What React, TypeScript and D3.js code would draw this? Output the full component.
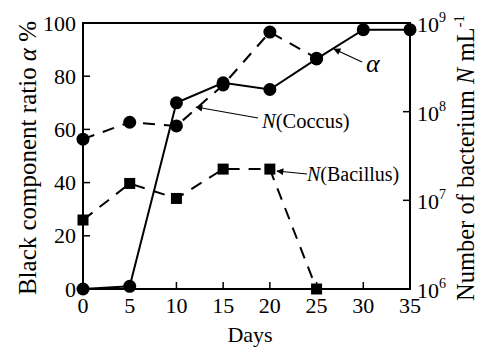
import * as d3 from "d3"

// values
const days = [0, 5, 10, 15, 20, 25, 30, 35]
const alphaRatio = [0, 1, 70, 77.5, 75, 86.5, 97.5, 97.5]
const coccusDays = [0, 5, 10, 15, 20, 25]
const coccusN = [4.9e7, 7.6e7, 6.9e7, 2.0e8, 7.9e8, 4.0e8]
const bacillusDays = [0, 5, 10, 15, 20, 25]
const bacillusN = [6.0e6, 1.55e7, 1.05e7, 2.25e7, 2.25e7, 1.0e6]
const xTicks = [0, 5, 10, 15, 20, 25, 30, 35]
const leftTicks = [0, 20, 40, 60, 80, 100]
const rightTicks = [1e6, 1e7, 1e8, 1e9]

const W = 480
const H = 347
const m = { left: 83, right: 410, top: 23, bottom: 289 }
const font = "'Liberation Serif', 'Times New Roman', serif"

export default function App() {
  const x = d3.scaleLinear().domain([0, 35]).range([m.left, m.right])
  const yL = d3.scaleLinear().domain([0, 100]).range([m.bottom, m.top])
  const yR = d3.scaleLog().domain([1e6, 1e9]).range([m.bottom, m.top])

  const alphaLine = d3.line<number>().x((_, i) => x(days[i])).y((d) => yL(d))
  const coccusLine = d3.line<number>().x((_, i) => x(coccusDays[i])).y((d) => yR(d))
  const bacillusLine = d3.line<number>().x((_, i) => x(bacillusDays[i])).y((d) => yR(d))

  const tick = 7
  const dash = "12,9"
  const midY = (m.top + m.bottom) / 2 + 2

  return (
    <svg
      width={W}
      height={H}
      style={{ position: "absolute", left: 0, top: 0, background: "white", fontFamily: font }}
    >
      <defs>
        <marker id="arr" viewBox="0 0 10 10" refX="9" refY="5" markerWidth="10" markerHeight="7" orient="auto-start-reverse" markerUnits="userSpaceOnUse">
          <path d="M0,0 L10,5 L0,10 z" fill="black" />
        </marker>
      </defs>

      {/* frame */}
      <rect x={m.left} y={m.top} width={m.right - m.left} height={m.bottom - m.top} fill="none" stroke="black" strokeWidth={2} />

      {/* bottom ticks */}
      {xTicks.map((t) => (
        <g key={"x" + t}>
          <line x1={x(t)} x2={x(t)} y1={m.bottom} y2={m.bottom - tick} stroke="black" strokeWidth={1.5} />
          <text x={x(t)} y={m.bottom + 24} textAnchor="middle" fontSize={22}>{t}</text>
        </g>
      ))}

      {/* left ticks */}
      {leftTicks.map((t) => (
        <g key={"l" + t}>
          <line x1={m.left} x2={m.left + tick} y1={yL(t)} y2={yL(t)} stroke="black" strokeWidth={1.5} />
          <text x={m.left - 7} y={yL(t) + 7.5} textAnchor="end" fontSize={22}>{t}</text>
        </g>
      ))}

      {/* right ticks */}
      {rightTicks.map((t) => {
        const e = Math.round(Math.log10(t))
        return (
          <g key={"r" + t}>
            <line x1={m.right} x2={m.right - tick} y1={yR(t)} y2={yR(t)} stroke="black" strokeWidth={1.5} />
            <text x={m.right + 7} y={yR(t) + 9} fontSize={22}>
              10<tspan dy={-10} fontSize={14}>{e}</tspan>
            </text>
          </g>
        )
      })}

      {/* axis titles */}
      <text x={250} y={342} textAnchor="middle" fontSize={22}>Days</text>
      <text transform={`translate(36,${midY}) rotate(-90)`} textAnchor="middle" fontSize={25}>
        Black component ratio <tspan fontStyle="italic">α</tspan> %
      </text>
      <text transform={`translate(474,${midY}) rotate(-90)`} textAnchor="middle" fontSize={24.5}>
        Number of bacterium <tspan fontStyle="italic">N</tspan> mL<tspan dy={-10} fontSize={15}>-1</tspan>
      </text>

      {/* series */}
      <path d={bacillusLine(bacillusN) ?? ""} fill="none" stroke="black" strokeWidth={2} strokeDasharray={dash} />
      <path d={coccusLine(coccusN) ?? ""} fill="none" stroke="black" strokeWidth={2} strokeDasharray={dash} />
      <path d={alphaLine(alphaRatio) ?? ""} fill="none" stroke="black" strokeWidth={2} />

      {bacillusN.map((v, i) => (
        <rect key={"b" + i} x={x(bacillusDays[i]) - 5.5} y={yR(v) - 5.5} width={11} height={11} fill="black" />
      ))}
      {coccusN.map((v, i) => (
        <circle key={"c" + i} cx={x(coccusDays[i])} cy={yR(v)} r={6.5} fill="black" />
      ))}
      {alphaRatio.map((v, i) => (
        <circle key={"a" + i} cx={x(days[i])} cy={yL(v)} r={6.5} fill="black" />
      ))}

      {/* annotations */}
      <line x1={362} y1={62} x2={334} y2={49} stroke="black" strokeWidth={1.2} markerEnd="url(#arr)" />
      <text x={366} y={72} fontSize={26} fontStyle="italic">α</text>

      <line x1={258} y1={118} x2={196} y2={107} stroke="black" strokeWidth={1.2} markerEnd="url(#arr)" />
      <text x={262} y={128} fontSize={20.5}>
        <tspan fontStyle="italic">N</tspan>(Coccus)
      </text>

      <line x1={307} y1={174} x2={277} y2={171} stroke="black" strokeWidth={1.2} markerEnd="url(#arr)" />
      <text x={307} y={181} fontSize={20}>
        <tspan fontStyle="italic">N</tspan>(Bacillus)
      </text>
    </svg>
  )
}
